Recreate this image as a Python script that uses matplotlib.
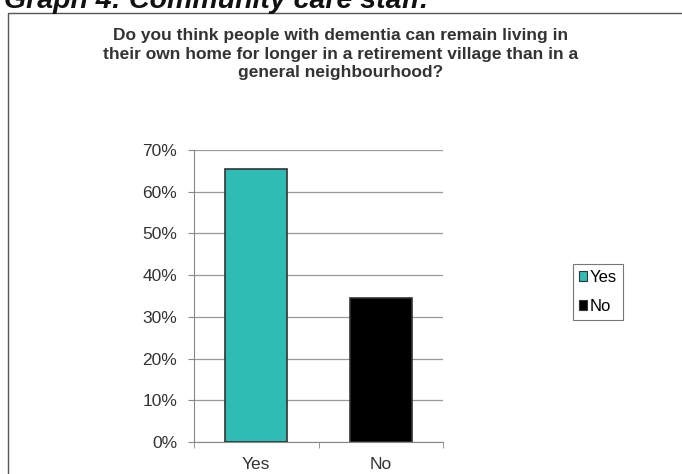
import matplotlib
matplotlib.use("Agg")
import matplotlib.pyplot as plt
from matplotlib.patches import Rectangle, Patch
from matplotlib.ticker import PercentFormatter, FixedLocator

categories = ["Yes", "No"]
values = [0.655, 0.345]
colors = ["#2DBDB5", "#000000"]
header = "Graph 4: Community care staff."
title = ("Do you think people with dementia can remain living in\n"
         "their own home for longer in a retirement village than in a\n"
         "general neighbourhood?")

plt.rcParams["font.family"] = ["Liberation Sans", "DejaVu Sans"]

fig = plt.figure(figsize=(6.82, 4.74), dpi=100)

# outer frame of the chart object
fig.add_artist(Rectangle((8 / 682, -0.1), 1.0, (474 - 13) / 474 + 0.1,
                         transform=fig.transFigure, fill=False,
                         edgecolor="#555555", linewidth=1.0))

# page heading, clipped by the top edge as in the source
fig.text(4 / 682, (474 - 8) / 474, header, ha="left", va="baseline",
         fontsize=20.5, fontweight="bold", fontstyle="italic",
         color="#111111")

fig.text(0.50, (474 - 54) / 474, title, ha="center", va="center",
         fontsize=12.5, fontweight="bold", color="#333333",
         linespacing=1.3)

ax = fig.add_axes([194 / 682, 32 / 474, 249 / 682, 292 / 474])
x = range(len(categories))
ax.bar(x, values, width=0.5, color=colors, edgecolor="#333333",
       linewidth=1.2, zorder=3)

ax.set_ylim(0, 0.70)
ax.set_xlim(-0.5, 1.5)
ax.set_yticks([i / 10 for i in range(8)])
ax.yaxis.set_major_formatter(PercentFormatter(1.0, decimals=0))
ax.set_xticks(list(x))
ax.set_xticklabels(categories)
ax.xaxis.set_minor_locator(FixedLocator([-0.5, 0.5, 1.5]))
ax.tick_params(axis="x", which="major", length=0, labelsize=12.5, pad=11,
               labelcolor="#333333")
ax.tick_params(axis="x", which="minor", length=4, color="#888888",
               direction="out")
ax.tick_params(axis="y", length=4, color="#888888", labelsize=12.5,
               labelcolor="#333333", pad=8)
ax.yaxis.grid(True, color="#999999", linewidth=0.9, zorder=0)
for side in ("top", "right"):
    ax.spines[side].set_visible(False)
ax.spines["left"].set_color("#888888")
ax.spines["bottom"].set_color("#888888")

handles = [Patch(facecolor=c, edgecolor="#333333", linewidth=0.8)
           for c in colors]
leg = fig.legend(handles, categories, loc="center left",
                 bbox_to_anchor=(573 / 682, (474 - 292) / 474),
                 fontsize=12, frameon=True, fancybox=False,
                 handlelength=0.5, handleheight=0.5, handletextpad=0.15,
                 labelspacing=0.85, borderpad=0.35, borderaxespad=0)
leg.get_frame().set_edgecolor("#555555")
leg.get_frame().set_linewidth(0.8)

fig.savefig("out.png", dpi=100)
